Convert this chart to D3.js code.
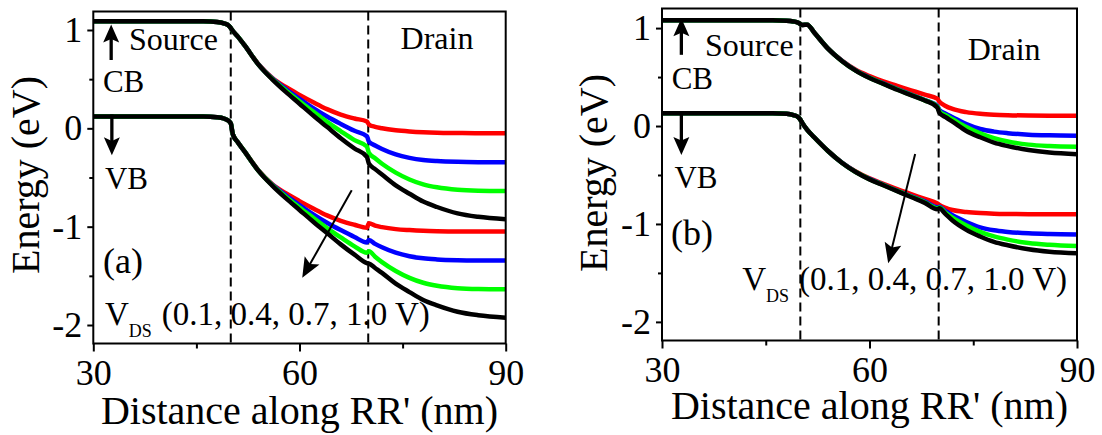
<!DOCTYPE html>
<html>
<head>
<meta charset="utf-8">
<script src="https://cdn.jsdelivr.net/npm/d3@7"></script>
<style>
  html, body { margin: 0; padding: 0; background: #fff; }
  svg { display: block; font-family: "Liberation Serif", "Times New Roman", serif; }
</style>
</head>
<body>
<svg id="chart" width="1102" height="435"></svg>
<script>
// Position along RR' (nm) at which every band profile is sampled
const distance = [30, 46, 48, 49, 49.7, 50, 50.3, 51, 52, 54, 56, 58, 60, 62, 64, 66, 68, 69.8, 70.1, 71, 72, 74, 76, 78, 80, 83, 86, 90];

// Drain biases, one profile per bias
const biasValues = [0.1, 0.4, 0.7, 1.0];
const biasColors = ["#ff0000", "#0000ff", "#00ff00", "#000000"];

// Region boundaries (source/channel and channel/drain)
const boundaries = [50, 70];

// Axis ticks
const xTicks = [30, 60, 90];
const xMinorTicks = [45, 75];
const yTicks = [-2, -1, 0, 1];
const yMinorTicks = [-1.5, -0.5, 0.5];

// ---- Panel (a): conduction band (eV)
const cbA_01 = [1.09, 1.088, 1.082, 1.068, 1.045, 1.02, 0.99, 0.935, 0.845, 0.655, 0.515, 0.42, 0.34, 0.265, 0.195, 0.14, 0.10, 0.07, 0.04, 0.015, 0.0, -0.02, -0.032, -0.04, -0.045, -0.048, -0.05, -0.05];
const cbA_04 = [1.09, 1.088, 1.082, 1.068, 1.045, 1.02, 0.99, 0.935, 0.845, 0.652, 0.51, 0.40, 0.30, 0.205, 0.12, 0.045, -0.025, -0.08, -0.135, -0.175, -0.21, -0.265, -0.30, -0.322, -0.333, -0.341, -0.344, -0.345];
const cbA_07 = [1.09, 1.088, 1.082, 1.068, 1.045, 1.02, 0.99, 0.935, 0.845, 0.651, 0.505, 0.385, 0.275, 0.17, 0.065, -0.03, -0.12, -0.185, -0.25, -0.305, -0.36, -0.45, -0.52, -0.57, -0.60, -0.625, -0.634, -0.637];
const cbA_10 = [1.09, 1.088, 1.082, 1.068, 1.045, 1.02, 0.99, 0.935, 0.845, 0.65, 0.50, 0.37, 0.25, 0.13, 0.015, -0.10, -0.205, -0.29, -0.36, -0.415, -0.47, -0.58, -0.665, -0.745, -0.80, -0.865, -0.90, -0.925];
// ---- Panel (a): valence band (eV)
const vbA_01 = [0.12, 0.12, 0.113, 0.10, 0.075, 0.05, -0.06, -0.14, -0.235, -0.425, -0.565, -0.66, -0.74, -0.815, -0.885, -0.94, -0.98, -1.01, -0.965, -0.99, -1.005, -1.025, -1.035, -1.042, -1.046, -1.049, -1.05, -1.05];
const vbA_04 = [0.12, 0.12, 0.113, 0.10, 0.075, 0.05, -0.06, -0.14, -0.235, -0.428, -0.57, -0.68, -0.78, -0.875, -0.96, -1.035, -1.105, -1.16, -1.135, -1.175, -1.21, -1.265, -1.30, -1.322, -1.333, -1.341, -1.344, -1.345];
const vbA_07 = [0.12, 0.12, 0.113, 0.10, 0.075, 0.05, -0.06, -0.14, -0.235, -0.429, -0.575, -0.695, -0.805, -0.91, -1.015, -1.11, -1.20, -1.265, -1.25, -1.305, -1.36, -1.45, -1.52, -1.57, -1.60, -1.625, -1.634, -1.637];
const vbA_10 = [0.12, 0.12, 0.113, 0.10, 0.075, 0.05, -0.06, -0.14, -0.235, -0.43, -0.58, -0.71, -0.83, -0.95, -1.065, -1.18, -1.285, -1.37, -1.375, -1.42, -1.47, -1.58, -1.665, -1.745, -1.80, -1.865, -1.90, -1.925];

// ---- Panel (b): conduction band (eV)
const cbB_01 = [1.08, 1.08, 1.076, 1.068, 1.055, 1.042, 1.032, 1.035, 0.955, 0.79, 0.668, 0.575, 0.51, 0.455, 0.41, 0.365, 0.32, 0.28, 0.25, 0.205, 0.175, 0.142, 0.125, 0.116, 0.111, 0.107, 0.106, 0.105];
const cbB_04 = [1.08, 1.08, 1.076, 1.068, 1.055, 1.042, 1.032, 1.035, 0.955, 0.79, 0.666, 0.568, 0.495, 0.435, 0.378, 0.322, 0.266, 0.205, 0.165, 0.125, 0.09, 0.02, -0.03, -0.057, -0.073, -0.088, -0.095, -0.099];
const cbB_07 = [1.08, 1.08, 1.076, 1.068, 1.055, 1.042, 1.032, 1.035, 0.955, 0.79, 0.665, 0.566, 0.492, 0.432, 0.374, 0.318, 0.262, 0.198, 0.15, 0.11, 0.07, -0.01, -0.075, -0.123, -0.158, -0.19, -0.204, -0.211];
const cbB_10 = [1.08, 1.08, 1.076, 1.068, 1.055, 1.042, 1.032, 1.035, 0.955, 0.79, 0.665, 0.565, 0.49, 0.43, 0.37, 0.315, 0.26, 0.19, 0.135, 0.09, 0.045, -0.05, -0.115, -0.17, -0.205, -0.245, -0.27, -0.287];
// ---- Panel (b): valence band (eV)
const vbB_01 = [0.13, 0.13, 0.125, 0.112, 0.09, 0.065, 0.03, -0.04, -0.115, -0.255, -0.372, -0.465, -0.535, -0.59, -0.645, -0.695, -0.745, -0.79, -0.805, -0.835, -0.858, -0.878, -0.889, -0.895, -0.898, -0.90, -0.90, -0.90];
const vbB_04 = [0.13, 0.13, 0.125, 0.112, 0.09, 0.065, 0.03, -0.04, -0.115, -0.255, -0.374, -0.468, -0.54, -0.60, -0.66, -0.715, -0.77, -0.83, -0.825, -0.87, -0.912, -0.98, -1.035, -1.065, -1.081, -1.096, -1.103, -1.107];
const vbB_07 = [0.13, 0.13, 0.125, 0.112, 0.09, 0.065, 0.03, -0.04, -0.115, -0.255, -0.375, -0.47, -0.543, -0.603, -0.663, -0.72, -0.778, -0.84, -0.832, -0.885, -0.935, -1.015, -1.08, -1.127, -1.16, -1.195, -1.213, -1.226];
const vbB_10 = [0.13, 0.13, 0.125, 0.112, 0.09, 0.065, 0.03, -0.04, -0.115, -0.255, -0.375, -0.47, -0.545, -0.605, -0.665, -0.725, -0.785, -0.85, -0.84, -0.90, -0.965, -1.06, -1.128, -1.183, -1.218, -1.258, -1.283, -1.30];

const panels = [
  {
    tag: "(a)",
    box: { left: 93.3, right: 505.7, top: 11.5, bottom: 343.5 },
    yDomain: [-2.188, 1.188],
    cb: [cbA_01, cbA_04, cbA_07, cbA_10],
    vb: [vbA_01, vbA_04, vbA_07, vbA_10],
    yTitleX: 39, yTitleY: 175, xTitleY: 424, tickLabelY: 41,
    notes: {
      upArrow: [32.6, 0.695, 32.6, 1.055],
      downArrow: [32.7, 0.14, 32.7, -0.275],
      biasArrow: [67.6, -0.63, 60.4, -1.52],
      source: [35.2, 0.80], cbText: [31.4, 0.37], vbText: [31.7, -0.62],
      drain: [74.7, 0.81], tagPos: [31.4, -1.47], vds: [31.7, -2.0]
    }
  },
  {
    tag: "(b)",
    box: { left: 662, right: 1077, top: 8.5, bottom: 340.5 },
    yDomain: [-2.19, 1.2],
    cb: [cbB_01, cbB_04, cbB_07, cbB_10],
    vb: [vbB_01, vbB_04, vbB_07, vbB_10],
    yTitleX: 607, yTitleY: 173, xTitleY: 419, tickLabelY: 41,
    notes: {
      upArrow: [32.8, 0.727, 32.8, 1.10],
      downArrow: [32.8, 0.135, 32.8, -0.295],
      biasArrow: [66.6, -0.285, 62.7, -1.40],
      source: [36.2, 0.71], cbText: [31.4, 0.377], vbText: [31.8, -0.634],
      drain: [74.2, 0.676], tagPos: [31.3, -1.213], vds: [41.6, -1.673]
    }
  }
];

const svg = d3.select("#chart");
const FONT = "'Liberation Serif', 'Times New Roman', serif";
const TICK_FONT = 36;
// Plain hyphen for negative tick values
const tickText = d => String(d);

function arrow(g, x1, y1, x2, y2, lw, headLen, headW) {
  const dx = x2 - x1, dy = y2 - y1;
  const len = Math.hypot(dx, dy);
  const ux = dx / len, uy = dy / len;
  const bx = x2 - ux * headLen, by = y2 - uy * headLen;
  g.append("line")
    .attr("x1", x1).attr("y1", y1)
    .attr("x2", x2 - ux * headLen * 0.6).attr("y2", y2 - uy * headLen * 0.6)
    .attr("stroke", "#000").attr("stroke-width", lw);
  const px = -uy, py = ux;
  const notch = headLen * 0.2;
  g.append("path")
    .attr("d", `M${x2},${y2} L${bx + px * headW / 2},${by + py * headW / 2} L${bx + ux * notch},${by + uy * notch} L${bx - px * headW / 2},${by - py * headW / 2} Z`)
    .attr("fill", "#000");
}

panels.forEach(p => {
  const b = p.box;
  const x = d3.scaleLinear().domain([30, 90]).range([b.left, b.right]);
  const y = d3.scaleLinear().domain(p.yDomain).range([b.bottom, b.top]);
  const g = svg.append("g");

  // Boundary markers
  boundaries.forEach(d => {
    g.append("line")
      .attr("x1", x(d)).attr("x2", x(d))
      .attr("y1", b.top).attr("y2", b.bottom)
      .attr("stroke", "#000").attr("stroke-width", 2)
      .attr("stroke-dasharray", "9,5");
  });

  // Band profiles: red, blue, green, then black on top
  const line = d3.line()
    .x((v, i) => x(distance[i]))
    .y(v => y(v))
    .curve(d3.curveMonotoneX);
  biasValues.forEach((bias, k) => {
    [p.cb[k], p.vb[k]].forEach(series => {
      g.append("path")
        .datum(series)
        .attr("d", line)
        .attr("fill", "none")
        .attr("stroke", biasColors[k])
        .attr("stroke-width", 4.5)
        .attr("stroke-linejoin", "round");
    });
  });

  // Frame
  g.append("rect")
    .attr("x", b.left).attr("y", b.top)
    .attr("width", b.right - b.left).attr("height", b.bottom - b.top)
    .attr("fill", "none").attr("stroke", "#000").attr("stroke-width", 2);

  // Axes
  const styleAxis = sel => {
    sel.select(".domain").remove();
    sel.selectAll("line").attr("stroke", "#000").attr("stroke-width", 2);
    sel.selectAll("text").attr("fill", "#000");
    sel.attr("font-family", FONT).attr("font-size", TICK_FONT);
  };
  g.append("g").attr("transform", `translate(0,${b.bottom})`)
    .call(d3.axisBottom(x).tickValues(xTicks).tickSize(8).tickPadding(p.tickLabelY - 8 - 0.71 * TICK_FONT).tickFormat(tickText))
    .call(styleAxis);
  g.append("g").attr("transform", `translate(0,${b.bottom})`)
    .call(d3.axisBottom(x).tickValues(xMinorTicks).tickSize(5).tickFormat(""))
    .call(styleAxis);
  g.append("g").attr("transform", `translate(${b.left},0)`)
    .call(d3.axisLeft(y).tickValues(yTicks).tickSize(6).tickPadding(5).tickFormat(tickText))
    .call(styleAxis);
  g.append("g").attr("transform", `translate(${b.left},0)`)
    .call(d3.axisLeft(y).tickValues(yMinorTicks).tickSize(4).tickFormat(""))
    .call(styleAxis);

  // Axis titles
  g.append("text")
    .attr("x", (b.left + b.right) / 2).attr("y", p.xTitleY)
    .attr("text-anchor", "middle").attr("font-family", FONT).attr("font-size", 40)
    .text("Distance along RR' (nm)");
  g.append("text")
    .attr("transform", `translate(${p.yTitleX},${p.yTitleY}) rotate(-90)`)
    .attr("text-anchor", "middle").attr("font-family", FONT).attr("font-size", 40)
    .text("Energy (eV)");

  // Annotations
  const n = p.notes;
  const label = (pos, txt, size) => g.append("text")
    .attr("x", x(pos[0])).attr("y", y(pos[1]))
    .attr("font-family", FONT).attr("font-size", size).text(txt);
  label(n.source, "Source", 32);
  label(n.cbText, "CB", 31);
  label(n.vbText, "VB", 31);
  label(n.drain, "Drain", 32);
  label(n.tagPos, p.tag, 36);

  const vds = g.append("text")
    .attr("x", x(n.vds[0])).attr("y", y(n.vds[1]))
    .attr("font-family", FONT).attr("font-size", 33);
  vds.append("tspan").text("V");
  vds.append("tspan").attr("font-size", 18).attr("dy", 12).text("DS");
  vds.append("tspan").attr("dy", -12).attr("dx", 10)
    .text("(" + biasValues.map(v => v.toFixed(1)).join(", ") + " V)");

  arrow(g, x(n.upArrow[0]), y(n.upArrow[1]), x(n.upArrow[2]), y(n.upArrow[3]), 3.3, 18, 16);
  arrow(g, x(n.downArrow[0]), y(n.downArrow[1]), x(n.downArrow[2]), y(n.downArrow[3]), 3.3, 18, 16);
  arrow(g, x(n.biasArrow[0]), y(n.biasArrow[1]), x(n.biasArrow[2]), y(n.biasArrow[3]), 2, 20, 17);
});
</script>
</body>
</html>
